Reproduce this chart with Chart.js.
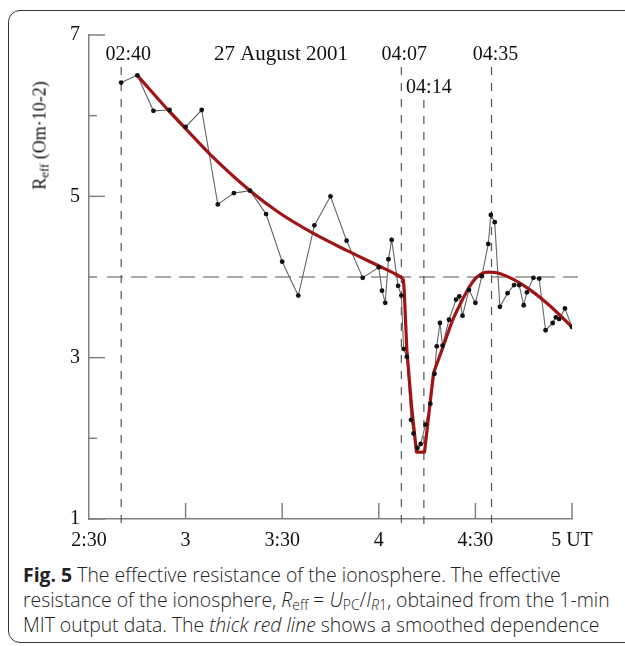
<!DOCTYPE html>
<html>
<head>
<meta charset="utf-8">
<script src="https://cdn.jsdelivr.net/npm/chart.js@4/dist/chart.umd.min.js"></script>
<style>
  html, body { margin: 0; padding: 0; background: #fff; }
  body { width: 625px; height: 646px; position: relative; overflow: hidden; }
  #frame {
    position: absolute; left: 8px; top: 10px; width: 700px; height: 631px;
    border: 1.5px solid #333; border-radius: 12px;
  }
  #chart { position: absolute; left: 0; top: 0; }
  #ytitle {
    position: absolute; left: -45px; top: 125px; width: 170px; text-align: center;
    font: 18px "Liberation Serif", serif; color: #111;
    transform: rotate(-90deg); white-space: nowrap;
  }
  .sb { font-size: 0.72em; vertical-align: -0.25em; line-height: 0; }
  #caption {
    position: absolute; left: 23px; top: 562px; width: 610px;
    font: 300 19.4px "Open Sans", sans-serif; line-height: 25px; color: #222; white-space: nowrap;
  }
  #caption b { font-weight: 700; }
</style>
</head>
<body>
<div id="frame"></div>
<canvas id="chart" width="625" height="560"></canvas>
<div id="ytitle">R<span class="sb">eff</span> (Om·10-2)</div>
<div id="caption"><b>Fig. 5</b> The effective resistance of the ionosphere. The effective<br>resistance of the ionosphere, <i>R</i><span class="sb">eff</span> = <i>U</i><span class="sb">PC</span>/<i>I</i><span class="sb"><i>R</i>1</span>, obtained from the 1-min<br>MIT output data. The <i>thick red line</i> shows a smoothed dependence</div>
<script>
// time in minutes of the day (2:30 = 150, 5:00 = 300)
var obsTime = [160, 165, 170, 175, 180, 185, 190, 195, 200, 205, 210, 215, 220, 225, 230, 235, 240,
    241, 242, 243, 244, 246, 247, 247.7, 248.7, 250, 250.8, 252, 253, 254.5, 256, 257.3, 258, 259,
    259.8, 261.8, 264, 265, 266, 268, 270, 272, 274, 274.8, 276, 277.6, 280, 282, 283.6, 285, 286,
    288, 289.8, 291.8, 294, 295, 296, 297.8, 300];
var obsValue = [6.41, 6.50, 6.06, 6.07, 5.86, 6.07, 4.90, 5.04, 5.07, 4.78, 4.19, 3.77, 4.64, 5.00, 4.45, 3.99, 4.12,
    3.83, 3.68, 4.22, 4.46, 3.89, 3.77, 3.11, 3.01, 2.23, 2.06, 1.88, 1.93, 2.17, 2.43, 2.80, 3.14, 3.43,
    3.15, 3.47, 3.72, 3.76, 3.52, 3.84, 3.68, 4.01, 4.41, 4.77, 4.68, 3.63, 3.80, 3.90, 3.90, 3.65, 3.81,
    3.99, 3.98, 3.34, 3.43, 3.50, 3.48, 3.61, 3.38];

// smoothed dependence (thick red line), in three pieces
var decayTime = [165, 175, 180, 187.6, 200, 209.3, 219.7, 230, 240.4, 245, 247.6];
var decayValue = [6.50, 6.05, 5.84, 5.52, 5.07, 4.79, 4.54, 4.33, 4.13, 4.04, 3.98];
var dropTime = [247.6, 247.9, 248.7, 250.2, 251.7, 254.2, 257];
var dropValue = [3.98, 3.83, 3.10, 2.39, 1.83, 1.83, 2.81];
var recoveryTime = [257, 260, 263, 265.5, 268, 270.5, 274, 277, 281.8, 287, 293.2, 300];
var recoveryValue = [2.81, 3.14, 3.47, 3.68, 3.87, 4.00, 4.06, 4.05, 3.97, 3.84, 3.64, 3.38];

// marked moments
var eventTime = [160, 247, 254, 275];
var eventLabel = ['02:40', '04:07', '04:14', '04:35'];
var levelValue = 4;

// axes
var xTickValues = [150, 180, 210, 240, 270, 300];
var xTickLabels = ['2:30', '3', '3:30', '4', '4:30', '5 UT'];
var yTickLabels = ['1', '3', '5', '7'];
var chartTitle = '27 August 2001';

function toPoints(xs, ys) {
    return xs.map(function (x, i) { return { x: x, y: ys[i] }; });
}

var serif = '"Liberation Serif", "Times New Roman", serif';
var red = '#a01414';

// dashed marker lines, labels, title and inward tick marks
var marks = {
    id: 'marks',
    beforeDatasetsDraw: function (chart) {
        var ctx = chart.ctx, x = chart.scales.x, y = chart.scales.y;
        ctx.save();
        ctx.strokeStyle = '#555';
        ctx.lineWidth = 1.2;

        // horizontal level
        ctx.setLineDash([16, 8]);
        ctx.beginPath();
        ctx.moveTo(x.left + 18, y.getPixelForValue(levelValue));
        ctx.lineTo(x.right + 6, y.getPixelForValue(levelValue));
        ctx.stroke();

        // vertical event lines
        ctx.setLineDash([8, 8]);
        eventTime.forEach(function (t, i) {
            var px = x.getPixelForValue(t);
            var top = (i === 2) ? 100 : 67;
            ctx.beginPath();
            ctx.moveTo(px, top);
            ctx.lineTo(px, y.bottom + 8);
            ctx.stroke();
        });
        ctx.restore();
    },
    afterDraw: function (chart) {
        var ctx = chart.ctx, x = chart.scales.x, y = chart.scales.y;
        ctx.save();
        ctx.fillStyle = '#111';
        ctx.font = '20px ' + serif;
        ctx.textAlign = 'center';
        ctx.textBaseline = 'middle';
        var offs = [7, 3, 5, 4];
        eventTime.forEach(function (t, i) {
            var px = x.getPixelForValue(t) + offs[i];
            ctx.fillText(eventLabel[i], px, i === 2 ? 88 : 55);
        });
        ctx.font = '21px ' + serif;
        ctx.fillText(chartTitle, 281, 54);

        // ticks pointing into the plot
        ctx.strokeStyle = '#808080';
        ctx.lineWidth = 1.5;
        for (var v = 1; v <= 7; v++) {
            var len = (v % 2 === 1) ? 16 : 8;
            var py = y.getPixelForValue(v);
            ctx.beginPath();
            ctx.moveTo(x.left, py);
            ctx.lineTo(x.left + len, py);
            ctx.stroke();
        }
        xTickValues.slice(1).forEach(function (t) {
            var px = x.getPixelForValue(t);
            ctx.beginPath();
            ctx.moveTo(px, y.bottom);
            ctx.lineTo(px, y.bottom - 16);
            ctx.stroke();
        });
        ctx.restore();
    }
};

var ctx = document.getElementById('chart').getContext('2d');
var myChart = new Chart(ctx, {
    type: 'line',
    data: {
        datasets: [{
            // data points on top
            data: toPoints(obsTime, obsValue),
            showLine: false,
            pointRadius: 2.4,
            pointBackgroundColor: '#111',
            pointBorderWidth: 0,
            order: 0
        }, {
            data: toPoints(decayTime, decayValue),
            borderColor: red,
            borderWidth: 3.2,
            pointRadius: 0,
            cubicInterpolationMode: 'monotone',
            order: 1
        }, {
            data: toPoints(dropTime, dropValue),
            borderColor: red,
            borderWidth: 3.2,
            borderJoinStyle: 'round',
            pointRadius: 0,
            order: 1
        }, {
            data: toPoints(recoveryTime, recoveryValue),
            borderColor: red,
            borderWidth: 3.2,
            pointRadius: 0,
            cubicInterpolationMode: 'monotone',
            order: 1
        }, {
            data: toPoints(obsTime, obsValue),
            borderColor: '#666',
            borderWidth: 1.1,
            pointRadius: 0,
            order: 2
        }]
    },
    options: {
        responsive: false,
        animation: false,
        events: [],
        layout: { padding: { left: 29, top: 35, right: 53, bottom: 0 } },
        plugins: { legend: { display: false }, tooltip: { enabled: false } },
        scales: {
            x: {
                type: 'linear',
                min: 150,
                max: 300,
                grid: { display: false, drawTicks: false },
                border: { display: true, color: '#808080', width: 1.5 },
                ticks: {
                    stepSize: 30,
                    padding: 10,
                    color: '#111',
                    font: { family: serif, size: 20 },
                    maxRotation: 0,
                    callback: function (v) {
                        var i = xTickValues.indexOf(v);
                        return i >= 0 ? xTickLabels[i] : '';
                    }
                },
                afterFit: function (s) { s.height = 41; }
            },
            y: {
                min: 1,
                max: 7,
                grid: { display: false, drawTicks: false },
                border: { display: true, color: '#808080', width: 1.5 },
                ticks: {
                    stepSize: 1,
                    padding: 9,
                    color: '#111',
                    font: { family: serif, size: 20 },
                    callback: function (v) {
                        return yTickLabels.indexOf(String(v)) >= 0 ? String(v) : '';
                    }
                },
                afterFit: function (s) { s.width = 60; }
            }
        }
    },
    plugins: [marks]
});
</script>
</body>
</html>
